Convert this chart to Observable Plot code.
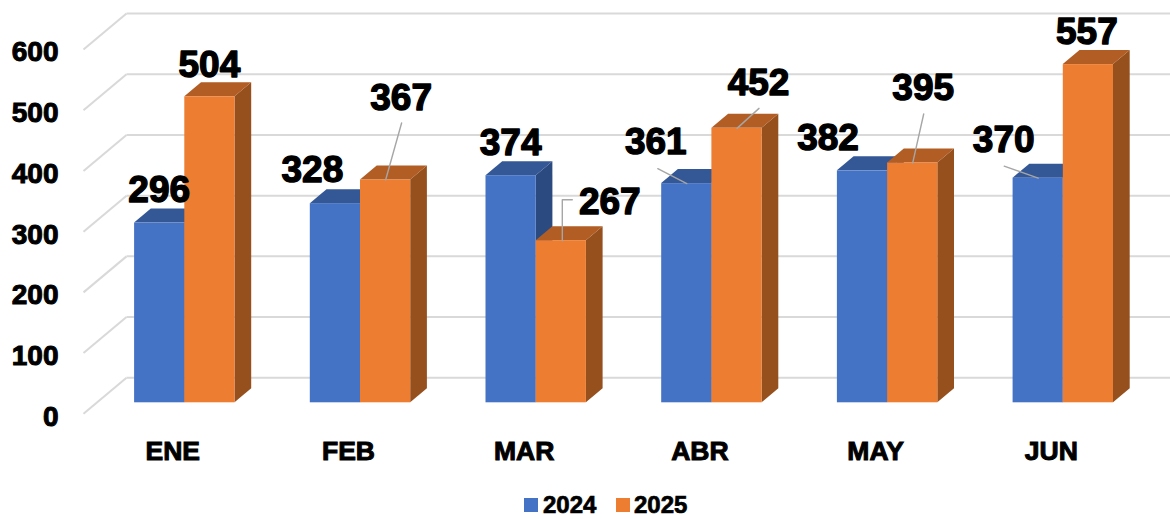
<!DOCTYPE html>
<html>
<head>
<meta charset="utf-8">
<script src="https://cdn.jsdelivr.net/npm/d3@7"></script>
<script src="https://cdn.jsdelivr.net/npm/@observablehq/plot@0.6"></script>
<style>
  html, body { margin: 0; padding: 0; background: #fff; overflow: hidden; }
  #chart svg { display: block; }
  #chart [aria-label$="tick label"] { stroke: #000; stroke-width: 1px; }
  #legend { position: relative; width: 1170px; height: 21px;
            font: bold 24px "Liberation Sans", Arial, sans-serif; color: #000;
            -webkit-text-stroke: 0.7px #000; }
  #legend i { position: absolute; top: 0; width: 14px; height: 14px; display: block; }
  #legend span { position: absolute; top: -7.5px; line-height: 27px; }
</style>
</head>
<body>
<div id="chart"></div>
<div id="legend"></div>
<script>
const months = ["ENE", "FEB", "MAR", "ABR", "MAY", "JUN"];
const values2024 = [296, 328, 374, 361, 382, 370];
const values2025 = [504, 367, 267, 452, 395, 557];
const yTicks = [0, 100, 200, 300, 400, 500, 600];
const seriesNames = ["2024", "2025"];

// label placement, in pixels relative to the top of each bar's front face
const labelOffsets2024 = [[-0.5, -33], [-23, -33], [-0.5, -33], [-31, -41], [-34.5, -33], [-34.5, -38]];
const labelOffsets2025 = [[-0.5, -32], [15.5, -82], [48.5, -39], [21.5, -45], [10.5, -75], [-1.5, -32]];
// leader lines, same frame; null = no leader
const leaders2024 = [null, null, null, [[-29, -15], [0, 0]], null, [[-34, -12], [0, 0]]];
const leaders2025 = [null, [[16, -57], [0, 0]], [[11, -41], [1, -41], [1, 0]], [[22, -20], [0, 0]], [[11, -49], [0, 0]], null];

const pxX = 1 / 175.7;            // category units per pixel
const pxY = 1 / 0.6072;           // value units per pixel
const barW = 50.2 * pxX;
const lift = 11 * pxY;            // bar floor sits behind the axis plane
const depthX = 16.7 * pxX, depthY = 14 * pxY;
const wallX = 43 * pxX, wallY = 36 * pxY;
const slantStart = -101.3 * pxX;
const gridEnd = 985.7 * pxX;

const palette = {
  "2024": {front: "#4472C4", top: "#345796", side: "#2B4A80"},
  "2025": {front: "#ED7D31", top: "#B25D24", side: "#96501D"}
};

function barMarks(name, vals, side) {
  const c = palette[name];
  const bars = vals.map((v, i) => {
    const L = side < 0 ? i - barW : i, R = L + barW;
    return {i, L, R, v, y0: lift, y1: v + lift};
  });
  const sides = bars.flatMap(b => [
    {id: b.i, x: b.R, lo: b.y0, hi: b.y1},
    {id: b.i, x: b.R + depthX, lo: b.y0 + depthY, hi: b.y1 + depthY}
  ]);
  const tops = bars.flatMap(b => [
    {id: b.i, x: b.L, lo: b.y1, hi: b.y1},
    {id: b.i, x: b.L + depthX, lo: b.y1, hi: b.y1 + depthY},
    {id: b.i, x: b.R, lo: b.y1, hi: b.y1 + depthY},
    {id: b.i, x: b.R + depthX, lo: b.y1 + depthY, hi: b.y1 + depthY}
  ]);
  return [
    Plot.area(sides, {x1: "x", y1: "lo", y2: "hi", z: "id", fill: c.side}),
    Plot.area(tops, {x1: "x", y1: "lo", y2: "hi", z: "id", fill: c.top}),
    Plot.rect(bars, {x1: "L", x2: "R", y1: "y0", y2: "y1", fill: c.front})
  ];
}

function labelMarks(vals, side, offsets, leaders) {
  const marks = [];
  vals.forEach((v, i) => {
    const cx = i + side * barW / 2, cy = v + lift;
    if (leaders[i]) {
      marks.push(Plot.line(leaders[i].map(([dx, dy]) => ({x: cx + dx * pxX, y: cy - dy * pxY})),
        {x: "x", y: "y", stroke: "#A6A6A6", strokeWidth: 1.4}));
    }
    marks.push(Plot.text([{x: cx, y: cy, t: String(v)}], {
      x: "x", y: "y", text: "t", dx: offsets[i][0], dy: offsets[i][1],
      fontSize: 37, fontWeight: "bold", fontFamily: "Liberation Sans",
      fill: "#000", stroke: "#000", strokeWidth: 1.4
    }));
  });
  return marks;
}

const chart = Plot.plot({
  width: 1170,
  height: 498,
  marginLeft: 60,
  marginRight: 0,
  marginTop: 0,
  marginBottom: 57,
  style: {background: "#fff"},
  x: {type: "linear", domain: [0, 5], range: [184.3, 1062.8], axis: null},
  y: {type: "linear", domain: [0, 600], range: [413.3, 49], axis: null},
  marks: [
    Plot.link(yTicks, {x1: () => slantStart, x2: () => slantStart + wallX, y1: d => d, y2: d => d + wallY, stroke: "#D9D9D9", strokeWidth: 2}),
    Plot.link(yTicks, {x1: () => slantStart + wallX, x2: () => gridEnd, y1: d => d + wallY, y2: d => d + wallY, stroke: "#D9D9D9", strokeWidth: 2}),
    ...barMarks("2024", values2024, -1),
    ...barMarks("2025", values2025, 1),
    ...labelMarks(values2024, -1, labelOffsets2024, leaders2024),
    ...labelMarks(values2025, 1, labelOffsets2025, leaders2025),
    Plot.axisY({
      ticks: yTicks, anchor: "left", tickSize: 0, tickPadding: 2, label: null, dy: 3,
      fontSize: 28, fontWeight: "bold", fontFamily: "Liberation Sans", fill: "#000"
    }),
    Plot.axisX({
      ticks: months.map((m, i) => i), tickFormat: i => months[i], anchor: "bottom",
      tickSize: 0, tickPadding: 0, label: null, dx: -12,
      fontSize: 26.5, fontWeight: "bold", fontFamily: "Liberation Sans", fill: "#000"
    })
  ]
});
document.getElementById("chart").appendChild(chart);

const legend = document.getElementById("legend");
seriesNames.forEach((name, k) => {
  const sw = document.createElement("i");
  sw.style.left = (524 + k * 92) + "px";
  sw.style.background = palette[name].front;
  const tx = document.createElement("span");
  tx.style.left = (543 + k * 91) + "px";
  tx.textContent = name;
  legend.append(sw, tx);
});
</script>
</body>
</html>
